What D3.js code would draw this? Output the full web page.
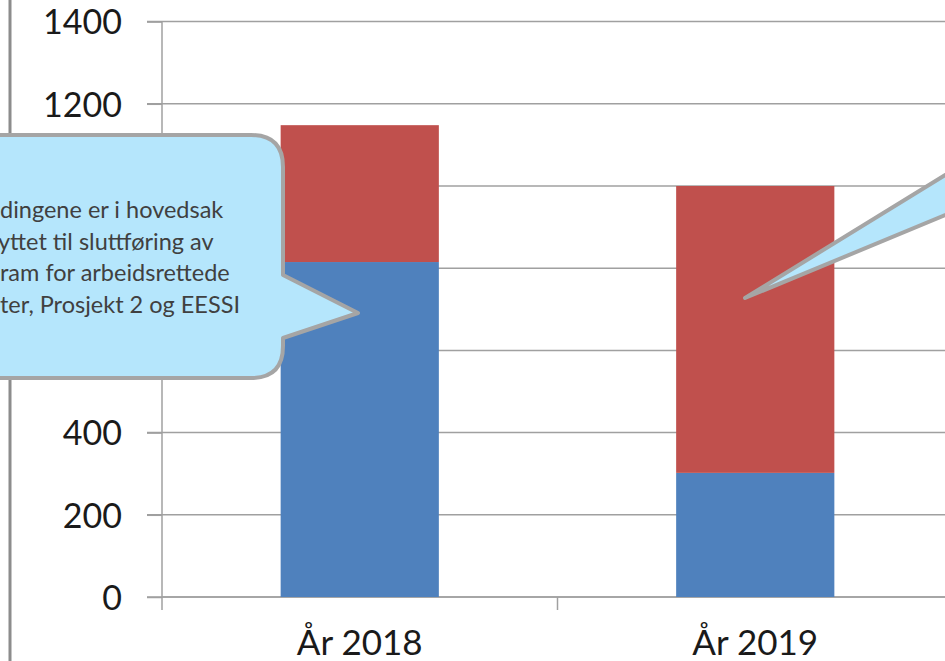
<!DOCTYPE html>
<html>
    <head>
        <meta charset="utf-8" />
        <title>År 2018 / År 2019</title>
        <script src="https://d3js.org/d3.v7.min.js"></script>
        <style>
            body {
                margin: 0;
                background: #fff;
                overflow: hidden;
            }
            * {
                font-family: Lato, 'Open Sans', sans-serif;
            }
            .grid line {
                stroke: #a0a0a0;
                stroke-width: 1.5px;
            }
            .axis path,
            .axis line {
                stroke: #a0a0a0;
                stroke-width: 1.5px;
            }
            .axis text {
                font-size: 34px;
                fill: #1a1a1a;
            }
        </style>
    </head>
    <body>
        <div id="chart"></div>
        <script>
            const categories = ['År 2018', 'År 2019'];
            const blueValues = [815, 302];
            const redValues = [333, 698];
            const yTicks = [0, 200, 400, 600, 800, 1000, 1200, 1400];
            const calloutLines = [
                'dingene er i hovedsak',
                'yttet til sluttføring av',
                'ram for arbeidsrettede',
                'ter, Prosjekt 2 og EESSI'
            ];

            const width = 945,
                height = 661;
            const margin = { top: 21.6, left: 162, bottom: 64, right: -8 };

            const svg = d3
                .select('#chart')
                .append('svg')
                .attr('width', width)
                .attr('height', height);

            const y = d3
                .scaleLinear()
                .domain([0, 1400])
                .range([height - margin.bottom, margin.top]);

            const x = d3
                .scaleBand()
                .domain(categories)
                .range([margin.left, width - margin.right])
                .paddingInner(0.6)
                .paddingOuter(0.3);

            const step = x.step();

            // gridlines
            svg.append('g')
                .attr('class', 'grid')
                .selectAll('line')
                .data(yTicks)
                .join('line')
                .attr('x1', margin.left - 15)
                .attr('x2', width + 10)
                .attr('y1', (d) => y(d))
                .attr('y2', (d) => y(d));

            // y axis
            const yAxis = svg
                .append('g')
                .attr('class', 'axis')
                .attr('transform', `translate(${margin.left},0)`)
                .call(
                    d3.axisLeft(y)
                        .tickValues(yTicks)
                        .tickFormat(d3.format('d'))
                        .tickSize(15)
                        .tickSizeOuter(0)
                        .tickPadding(25)
                );
            yAxis.select('.domain').attr('d', `M0,${y(1400)}V${y(0) + 13}`);
            yAxis.selectAll('text').attr('dy', '0.36em');

            // x axis (ticks at category boundaries)
            const xg = svg
                .append('g')
                .attr('class', 'axis')
                .attr('transform', `translate(0,${y(0)})`);
            xg.append('line')
                .attr('x1', margin.left)
                .attr('x2', width + 10)
                .attr('y1', 0)
                .attr('y2', 0);
            xg.selectAll('.xtick')
                .data(categories)
                .join('line')
                .attr('class', 'xtick')
                .attr('x1', (d) => x(d) + x.bandwidth() / 2 + step / 2)
                .attr('x2', (d) => x(d) + x.bandwidth() / 2 + step / 2)
                .attr('y1', 0)
                .attr('y2', 13);
            xg.selectAll('text')
                .data(categories)
                .join('text')
                .attr('x', (d) => x(d) + x.bandwidth() / 2)
                .attr('y', 58)
                .attr('text-anchor', 'middle')
                .style('font-size', '35px')
                .text((d) => d);

            // stacked bars
            const stackData = categories.map((c, i) => ({ cat: c, blue: blueValues[i], red: redValues[i] }));
            const series = d3.stack().keys(['blue', 'red'])(stackData);
            const colors = { blue: '#4f81bd', red: '#c0504d' };

            svg.append('g')
                .selectAll('g')
                .data(series)
                .join('g')
                .attr('fill', (s) => colors[s.key])
                .selectAll('rect')
                .data((s) => s)
                .join('rect')
                .attr('x', (d) => x(d.data.cat))
                .attr('width', x.bandwidth())
                .attr('y', (d) => y(d[1]))
                .attr('height', (d) => y(d[0]) - y(d[1]));

            // left border of the chart frame
            svg.append('line')
                .attr('x1', 10)
                .attr('x2', 10)
                .attr('y1', 0)
                .attr('y2', height)
                .attr('stroke', '#8c8c8c')
                .attr('stroke-width', 3);

            // callout on the left (points into the 2018 bar)
            const cx0 = -60,
                cy0 = 135,
                cx1 = 283,
                cy1 = 378,
                r = 32;
            const tipX = 358,
                tipY = 313,
                notchTop = 275,
                notchBottom = 338;
            const callout = d3.path();
            callout.moveTo(cx0, cy0);
            callout.lineTo(cx1 - r, cy0);
            callout.quadraticCurveTo(cx1, cy0, cx1, cy0 + r);
            callout.lineTo(cx1, notchTop);
            callout.lineTo(tipX, tipY);
            callout.lineTo(cx1, notchBottom);
            callout.lineTo(cx1, cy1 - r);
            callout.quadraticCurveTo(cx1, cy1, cx1 - r, cy1);
            callout.lineTo(cx0, cy1);
            callout.closePath();

            svg.append('path')
                .attr('d', callout.toString())
                .attr('fill', '#b5e6fc')
                .attr('stroke', '#a5a5a5')
                .attr('stroke-width', 4)
                .attr('stroke-linejoin', 'round');

            const lineStarts = [0, -2, 0, 0];
            svg.append('g')
                .selectAll('text')
                .data(calloutLines)
                .join('text')
                .attr('x', (d, i) => lineStarts[i])
                .attr('y', (d, i) => 218 + i * 31.5)
                .attr('font-size', 23.5)
                .attr('fill', '#404040')
                .text((d) => d);

            // callout on the right, only its pointer is inside the picture
            const tip2 = [745, 298];
            const pointer = d3.path();
            pointer.moveTo(tip2[0], tip2[1]);
            pointer.lineTo(960, 166);
            pointer.lineTo(1000, 166);
            pointer.lineTo(1000, 209);
            pointer.lineTo(960, 209);
            pointer.closePath();
            svg.append('path')
                .attr('d', pointer.toString())
                .attr('fill', '#b5e6fc')
                .attr('stroke', '#a5a5a5')
                .attr('stroke-width', 4)
                .attr('stroke-linejoin', 'round');
        </script>
    </body>
</html>
